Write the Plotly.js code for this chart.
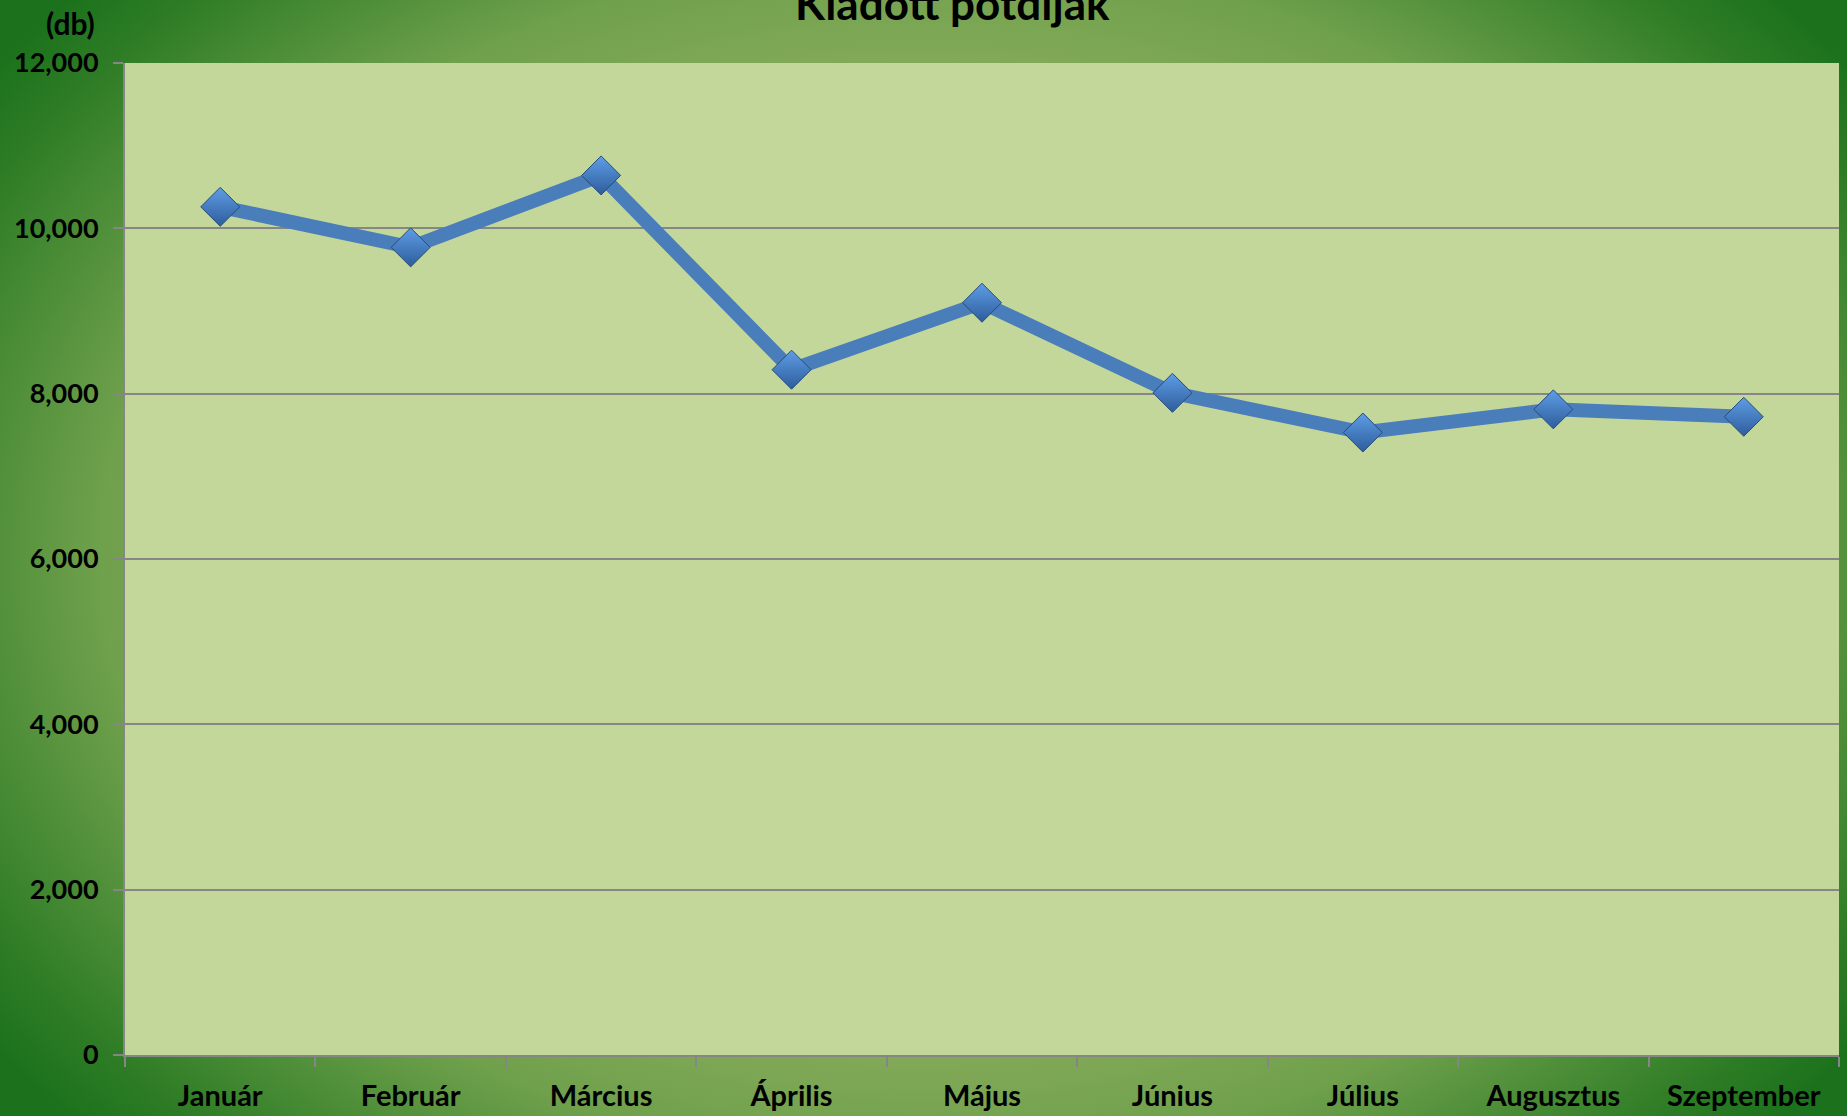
<!DOCTYPE html>
<html>
<head>
<meta charset="utf-8">
<script src="https://cdn.plot.ly/plotly-3.0.1.min.js"></script>
<style>
  html, body { margin: 0; padding: 0; }
  #chart {
    width: 1847px; height: 1116px;
    background: radial-gradient(ellipse 62% 75% at 50% 50%, #9fbb6e 0%, #97b465 45%, #6fa04c 72%, #2f7d26 92%, #1c721c 100%);
  }
</style>
</head>
<body>
<div id="chart"></div>
<script>
const months = ["Január", "Február", "Március", "Április", "Május", "Június", "Július", "Augusztus", "Szeptember"];
const counts = [10260, 9770, 10640, 8290, 9100, 8010, 7530, 7810, 7720];
const yTicks = [0, 2000, 4000, 6000, 8000, 10000, 12000];
const chartTitle = "Kiadott pótdíjak";
const unitLabel = "(db)";

const font = "Lato, 'Open Sans', sans-serif";

const trace = {
  type: "scatter",
  mode: "lines+markers",
  x: months,
  y: counts,
  line: { color: "#4a7ebb", width: 14 },
  marker: {
    symbol: "diamond",
    size: 30,
    color: "#5f9de6",
    gradient: { type: "vertical", color: "#2d5d9b" },
    line: { color: "#284b7a", width: 1 }
  },
  hoverinfo: "x+y"
};

const layout = {
  width: 1847,
  height: 1116,
  margin: { l: 125, r: 8, t: 63, b: 61 },
  paper_bgcolor: "rgba(0,0,0,0)",
  plot_bgcolor: "#c4d79b",
  showlegend: false,
  font: { family: font, color: "#000000" },
  xaxis: {
    type: "category",
    range: [-0.5, 8.5],
    showgrid: false,
    zeroline: false,
    showline: true,
    linecolor: "#868686",
    linewidth: 2,
    ticks: "outside",
    tickson: "boundaries",
    ticklen: 10,
    tickwidth: 2,
    tickcolor: "#868686",
    ticklabelstandoff: 14,
    tickfont: { family: font, size: 29, color: "#000000", weight: "bold" },
    fixedrange: true
  },
  yaxis: {
    range: [0, 12000],
    tickvals: yTicks,
    ticktext: yTicks.map(v => v.toLocaleString("en-US")),
    showgrid: true,
    gridcolor: "#868686",
    gridwidth: 2,
    zeroline: false,
    showline: true,
    linecolor: "#868686",
    linewidth: 2,
    ticks: "outside",
    ticklen: 10,
    tickwidth: 2,
    tickcolor: "#868686",
    ticklabelstandoff: 9,
    tickfont: { family: font, size: 27, color: "#000000", weight: "bold" },
    fixedrange: true
  },
  annotations: [
    {
      text: "<b>" + chartTitle + "</b>",
      xref: "paper", yref: "paper",
      x: 0.483, y: 1, xanchor: "center", yanchor: "bottom",
      yshift: 32,
      showarrow: false,
      font: { family: font, size: 44, color: "#000000" }
    },
    {
      text: "<b>" + unitLabel + "</b>",
      xref: "paper", yref: "paper",
      x: 0, y: 1, xanchor: "right", yanchor: "bottom",
      xshift: -28, yshift: 20,
      showarrow: false,
      font: { family: font, size: 30, color: "#000000" }
    }
  ]
};

Plotly.newPlot("chart", [trace], layout, { displayModeBar: false, staticPlot: false });
</script>
</body>
</html>
